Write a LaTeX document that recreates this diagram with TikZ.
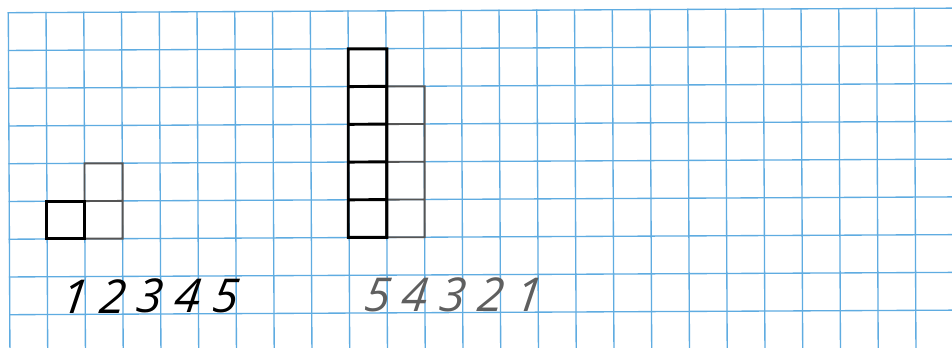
\documentclass[tikz,border=0pt]{standalone}
\usepackage{fontspec}
\newfontfamily\digfont[ItalicFeatures={FakeSlant=0.12}]{Open Sans}
\definecolor{gridblue}{RGB}{95,172,225}
\definecolor{pencil}{RGB}{85,85,85}
\definecolor{digitgray}{RGB}{95,95,95}
\begin{document}
\begin{tikzpicture}
\useasboundingbox (0,0) rectangle (714pt,-260.25pt);
\clip (0,0) rectangle (714pt,-260.25pt);
\fill[white] (0,0) rectangle (714pt,-260.25pt);
\begin{scope}[shift={(6.225pt,-9.525pt)}, x={(28.3125pt,0.137pt)}, y={(0.137pt,-28.3125pt)},
  gridline/.style={draw=gridblue, line width=1pt, line cap=rect},
  inkbox/.style={draw=black, line width=2.2pt, line cap=rect},
  pencilbox/.style={draw=pencil, line width=1.4pt, line cap=rect},
  digitA/.style={font=\digfont\itshape\fontsize{35}{35}\selectfont, anchor=base, inner sep=0pt, text=black},
  digitB/.style={font=\digfont\itshape\fontsize{35}{35}\selectfont, anchor=base, inner sep=0pt, text=digitgray}]
  % grid
  \foreach \i in {0,...,24} \draw[gridline] (\i,0) -- (\i,9.3);
  \foreach \j in {0,...,8} \draw[gridline] (0,\j) -- (25.5,\j);
  % left figure
  \draw[pencilbox] (2,4) rectangle (3,6) (2,5) -- (3,5);
  \draw[inkbox] (1,5) rectangle (2,6);
  % right figure
  \draw[pencilbox] (10,2) rectangle (11,6) (10,3) -- (11,3) (10,4) -- (11,4) (10,5) -- (11,5);
  \draw[inkbox] (9,1) rectangle (10,6) (9,2) -- (10,2) (9,3) -- (10,3) (9,4) -- (10,4) (9,5) -- (10,5);
  % digits left
  \node[digitA] (l1) at (1.68,7.97) {1};
  \node[digitA] (l2) at (2.68,7.97) {2};
  \node[digitA] (l3) at (3.68,7.97) {3};
  \node[digitA] (l4) at (4.68,7.97) {4};
  \node[digitA] (l5) at (5.68,7.97) {5};
  % digits right
  \node[digitB] (r5) at (9.70,7.97) {5};
  \node[digitB] (r4) at (10.70,7.97) {4};
  \node[digitB] (r3) at (11.70,7.97) {3};
  \node[digitB] (r2) at (12.70,7.97) {2};
  \node[digitB] (r1) at (13.70,7.97) {1};
\end{scope}
\end{tikzpicture}
\end{document}
